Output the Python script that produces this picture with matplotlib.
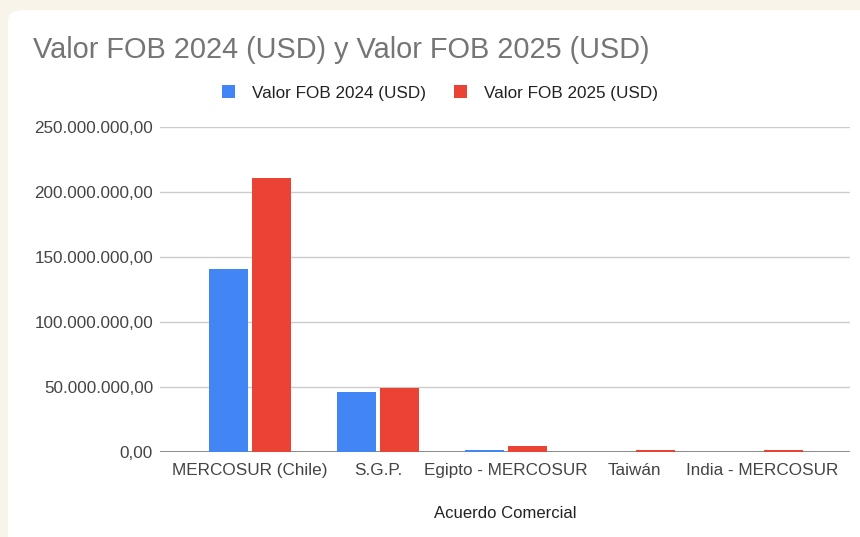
import matplotlib
matplotlib.use("Agg")
import matplotlib.pyplot as plt
import numpy as np
from matplotlib.patches import FancyBboxPatch
from matplotlib.ticker import FuncFormatter

categories = ["MERCOSUR (Chile)", "S.G.P.", "Egipto - MERCOSUR", "Taiwán", "India - MERCOSUR"]
fob_2024 = [141_000_000, 46_000_000, 1_500_000, 0, 0]
fob_2025 = [210_500_000, 49_000_000, 4_600_000, 1_500_000, 1_500_000]
series_labels = ["Valor FOB 2024 (USD)", "Valor FOB 2025 (USD)"]
title = "Valor FOB 2024 (USD) y Valor FOB 2025 (USD)"
xlabel = "Acuerdo Comercial"
yticks = [0, 50_000_000, 100_000_000, 150_000_000, 200_000_000, 250_000_000]

plt.rcParams['font.family'] = ['Liberation Sans', 'DejaVu Sans']

fig = plt.figure(figsize=(8.6, 5.37), dpi=100)
fig.patch.set_facecolor("#f8f4ea")
card = FancyBboxPatch((8/860, -0.1), 1.2, (537-10)/537 + 0.1,
                      boxstyle="round,pad=0,rounding_size=0.02",
                      transform=fig.transFigure, facecolor="white",
                      edgecolor="none", zorder=-5)
fig.patches.append(card)

ax = fig.add_axes([160/860, 1-452/537, (850-160)/860, (452-127)/537])
ax.set_zorder(2)
ax.set_facecolor("none")

x = np.arange(len(categories))
w = 0.31
gap = 0.012
ax.bar(x - w/2 - gap, fob_2024, width=w, color="#4285f4", label=series_labels[0], zorder=3)
ax.bar(x + w/2 + gap, fob_2025, width=w, color="#ea4335", label=series_labels[1], zorder=3)

ax.set_xlim(-0.703, 4.6875)
ax.set_ylim(0, 250_000_000)
ax.set_yticks(yticks)

def fmt(v, pos):
    s = f"{v:,.2f}"
    return s.replace(",", "X").replace(".", ",").replace("X", ".")
ax.yaxis.set_major_formatter(FuncFormatter(fmt))
ax.set_xticks(x)
ax.set_xticklabels(categories)

ax.grid(axis="y", color="#cccccc", linewidth=1, zorder=0)
ax.axhline(0, color="#777777", linewidth=1.2, zorder=2)
for s in ax.spines.values():
    s.set_visible(False)
ax.tick_params(axis="both", length=0, labelsize=12.3, colors="#444444")
ax.tick_params(axis="y", pad=5)
ax.tick_params(axis="x", pad=8)
ax.set_xlabel(xlabel, fontsize=12, color="#222222", labelpad=20)

fig.text(33/860, 1-50/537, title, fontsize=20.8, color="#757575", va="center", ha="left")

leg = fig.legend(loc="center", bbox_to_anchor=(440/860, 1-93/537), ncol=2, frameon=False,
                 fontsize=12.3, handlelength=0.8, handleheight=0.8, columnspacing=1.6,
                 handletextpad=1.0)
for t in leg.get_texts():
    t.set_color("#222222")

fig.savefig("out.png", dpi=100, facecolor=fig.get_facecolor())
